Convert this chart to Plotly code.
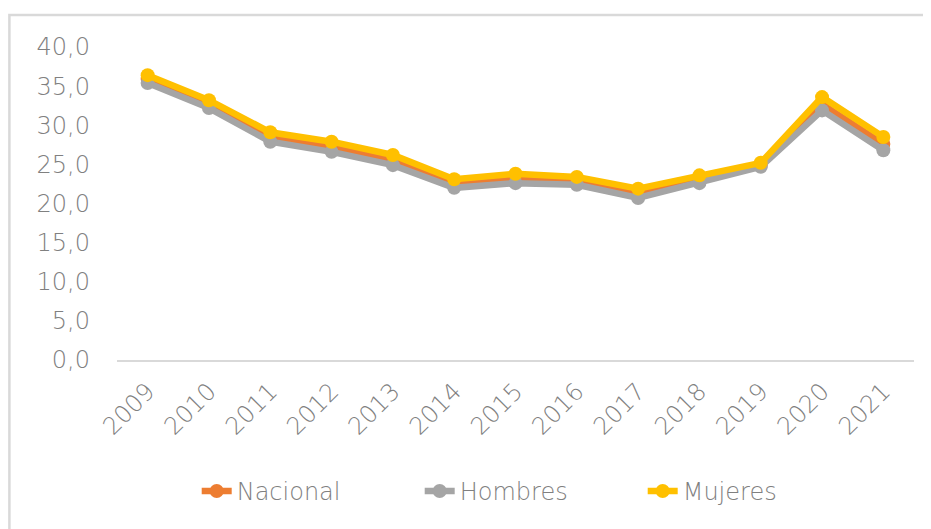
import plotly.graph_objects as go

years = ["2009", "2010", "2011", "2012", "2013", "2014", "2015", "2016", "2017", "2018", "2019", "2020", "2021"]
nacional = [35.9, 32.7, 28.5, 27.2, 25.5, 22.5, 23.2, 22.9, 21.3, 23.1, 24.9, 32.7, 27.6]
hombres = [35.4, 32.2, 27.9, 26.6, 24.9, 22.0, 22.6, 22.4, 20.7, 22.6, 24.7, 31.9, 26.8]
mujeres = [36.4, 33.2, 29.1, 27.9, 26.2, 23.1, 23.8, 23.4, 21.9, 23.6, 25.2, 33.6, 28.5]
y_ticks = [0, 5, 10, 15, 20, 25, 30, 35, 40]
y_labels = ["0,0", "5,0", "10,0", "15,0", "20,0", "25,0", "30,0", "35,0", "40,0"]

FONT = "DejaVu Sans"
TXT = "#808080"
series = [
    ("Nacional", nacional, "#ED7D31"),
    ("Hombres", hombres, "#A5A5A5"),
    ("Mujeres", mujeres, "#FFC000"),
]

fig = go.Figure()
for name, vals, col in series:
    fig.add_trace(go.Scatter(
        x=years, y=vals, name=name, mode="lines+markers",
        line=dict(color=col, width=6.5),
        marker=dict(color=col, size=14),
    ))

fig.add_shape(type="rect", xref="paper", yref="paper",
              x0=-0.135, x1=1.2, y0=-0.8, y1=1.102,
              line=dict(color="#d9d9d9", width=2.5), fillcolor="rgba(0,0,0,0)", layer="below")

fig.update_layout(
    width=931, height=529,
    margin=dict(l=109, r=25, t=39, b=177),
    paper_bgcolor="white", plot_bgcolor="white",
    font=dict(family=FONT, color=TXT, size=24, weight=300),
    showlegend=True,
    legend=dict(orientation="h", x=0.1, xanchor="left", y=-0.42, yanchor="middle",
                font=dict(family=FONT, size=24, color=TXT, weight=300),
                entrywidth=178, tracegroupgap=0),
    xaxis=dict(type="category", range=[-0.5, 12.5], tickangle=-45, showgrid=False, showline=True,
               automargin=False, linecolor="#d9d9d9", linewidth=1.5, ticks="", ticklabelstandoff=6,
               tickfont=dict(family=FONT, size=24, color=TXT, weight=300)),
    yaxis=dict(range=[0, 40], tickvals=y_ticks, ticktext=y_labels, showgrid=False, automargin=False,
               zeroline=False, showline=False, ticks="", ticklabelstandoff=26,
               tickfont=dict(family=FONT, size=24, color=TXT, weight=300)),
)

fig.write_html("out.html")
